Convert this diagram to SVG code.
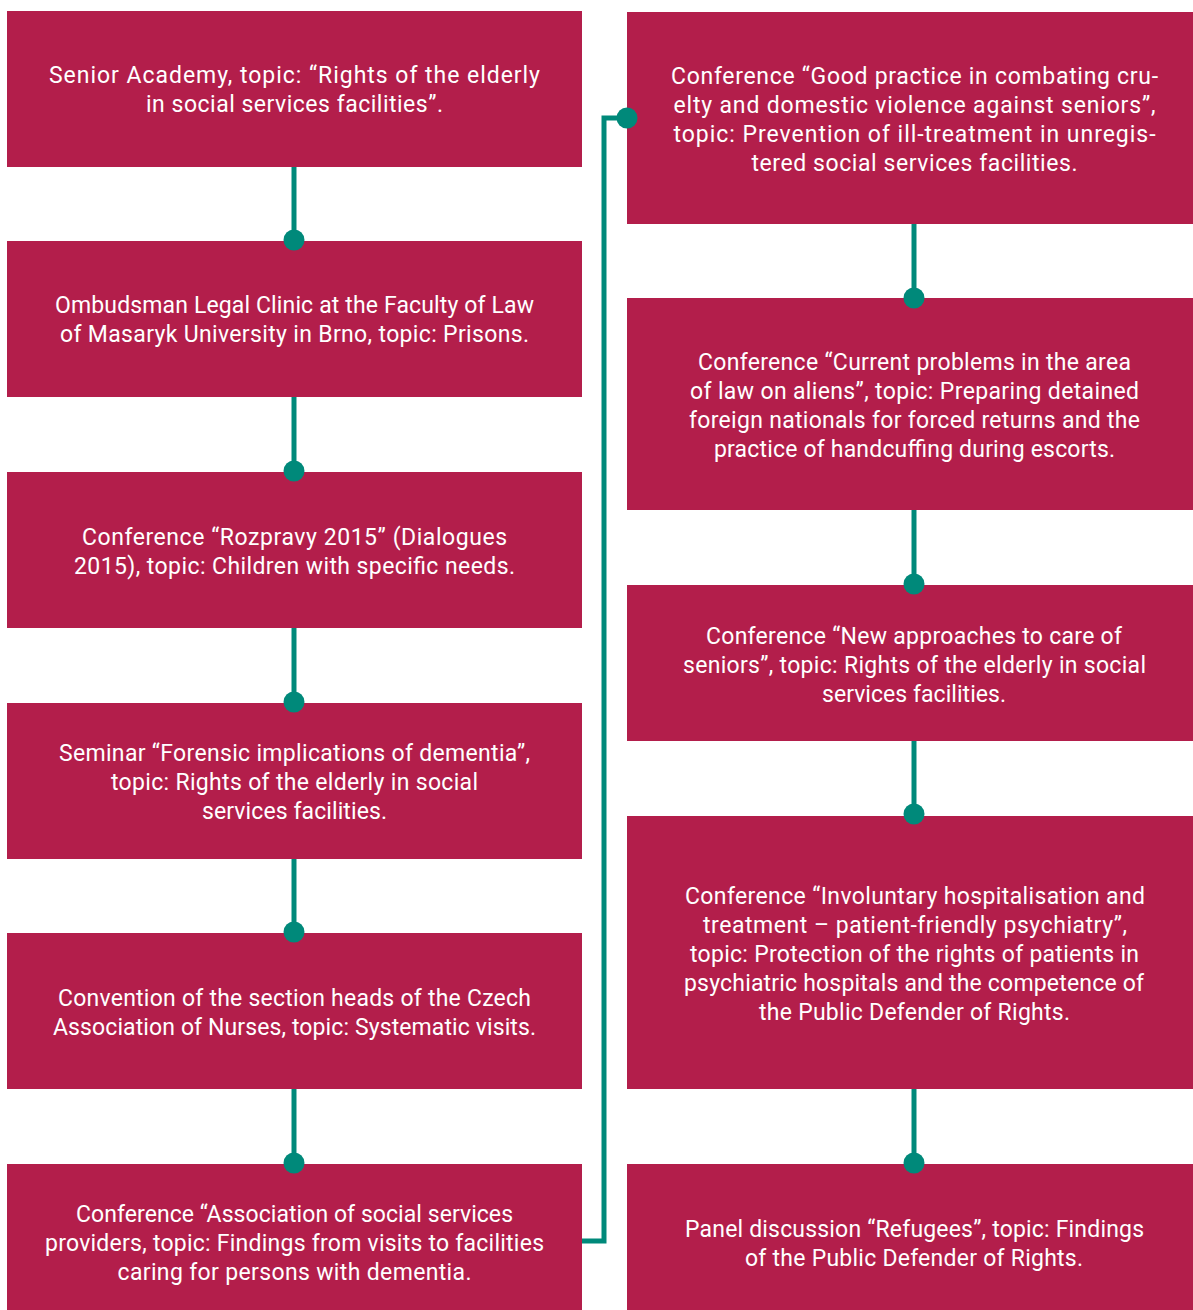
<svg xmlns="http://www.w3.org/2000/svg" width="1193" height="1310" viewBox="0 0 1193 1310">
<style>
.box{fill:#B31E4B}
.t{font-family:Roboto,"Liberation Sans",sans-serif;font-size:23px;fill:#fff;text-anchor:middle}
.ln{stroke:#00897A;stroke-width:5;fill:none}
.dot{fill:#00897A}
</style>
<rect width="1193" height="1310" fill="#fff"/>
<g id="connectors">
<line class="ln" x1="294" y1="167" x2="294" y2="240"/>
<line class="ln" x1="294" y1="397" x2="294" y2="471"/>
<line class="ln" x1="294" y1="628" x2="294" y2="702"/>
<line class="ln" x1="294" y1="859" x2="294" y2="932"/>
<line class="ln" x1="294" y1="1089" x2="294" y2="1163"/>
<polyline class="ln" points="582,1241 604,1241 604,118 627,118"/>
<line class="ln" x1="914" y1="224" x2="914" y2="298"/>
<line class="ln" x1="914" y1="510" x2="914" y2="584"/>
<line class="ln" x1="914" y1="741" x2="914" y2="814"/>
<line class="ln" x1="914" y1="1089" x2="914" y2="1163"/>
</g>
<g id="n1"><rect class="box" x="7" y="11" width="575" height="156"/>
<text class="t" x="294.5" y="83" textLength="491" lengthAdjust="spacing">Senior Academy, topic: “Rights of the elderly</text>
<text class="t" x="294.5" y="112" textLength="297" lengthAdjust="spacing">in social services facilities”.</text></g>
<g id="n2"><rect class="box" x="7" y="241" width="575" height="156"/>
<text class="t" x="294.5" y="313" textLength="479" lengthAdjust="spacing">Ombudsman Legal Clinic at the Faculty of Law</text>
<text class="t" x="294.5" y="342" textLength="469" lengthAdjust="spacing">of Masaryk University in Brno, topic: Prisons.</text></g>
<g id="n3"><rect class="box" x="7" y="472" width="575" height="156"/>
<text class="t" x="294.5" y="545" textLength="425" lengthAdjust="spacing">Conference “Rozpravy 2015” (Dialogues</text>
<text class="t" x="294.5" y="574" textLength="441" lengthAdjust="spacing">2015), topic: Children with specific needs.</text></g>
<g id="n4"><rect class="box" x="7" y="703" width="575" height="156"/>
<text class="t" x="294.5" y="761" textLength="471" lengthAdjust="spacing">Seminar “Forensic implications of dementia”,</text>
<text class="t" x="294.5" y="790" textLength="367" lengthAdjust="spacing">topic: Rights of the elderly in social</text>
<text class="t" x="294.5" y="819" textLength="185" lengthAdjust="spacing">services facilities.</text></g>
<g id="n5"><rect class="box" x="7" y="933" width="575" height="156"/>
<text class="t" x="294.5" y="1006" textLength="473" lengthAdjust="spacing">Convention of the section heads of the Czech</text>
<text class="t" x="294.5" y="1035" textLength="483" lengthAdjust="spacing">Association of Nurses, topic: Systematic visits.</text></g>
<g id="n6"><rect class="box" x="7" y="1164" width="575" height="146"/>
<text class="t" x="294.5" y="1222" textLength="437" lengthAdjust="spacing">Conference “Association of social services</text>
<text class="t" x="294.5" y="1251" textLength="499" lengthAdjust="spacing">providers, topic: Findings from visits to facilities</text>
<text class="t" x="294.5" y="1280" textLength="354" lengthAdjust="spacing">caring for persons with dementia.</text></g>
<g id="n7"><rect class="box" x="627" y="12" width="566" height="212"/>
<text class="t" x="914.5" y="84" textLength="487" lengthAdjust="spacing">Conference “Good practice in combating cru-</text>
<text class="t" x="914.5" y="113" textLength="482" lengthAdjust="spacing">elty and domestic violence against seniors”,</text>
<text class="t" x="914.5" y="142" textLength="482" lengthAdjust="spacing">topic: Prevention of ill-treatment in unregis-</text>
<text class="t" x="914.5" y="171" textLength="326" lengthAdjust="spacing">tered social services facilities.</text></g>
<g id="n8"><rect class="box" x="627" y="298" width="566" height="212"/>
<text class="t" x="914.5" y="370" textLength="433" lengthAdjust="spacing">Conference “Current problems in the area</text>
<text class="t" x="914.5" y="399" textLength="449" lengthAdjust="spacing">of law on aliens”, topic: Preparing detained</text>
<text class="t" x="914.5" y="428" textLength="451" lengthAdjust="spacing">foreign nationals for forced returns and the</text>
<text class="t" x="914.5" y="457" textLength="401" lengthAdjust="spacing">practice of handcuffing during escorts.</text></g>
<g id="n9"><rect class="box" x="627" y="585" width="566" height="156"/>
<text class="t" x="914" y="644" textLength="416" lengthAdjust="spacing">Conference “New approaches to care of</text>
<text class="t" x="914.5" y="673" textLength="463" lengthAdjust="spacing">seniors”, topic: Rights of the elderly in social</text>
<text class="t" x="914" y="702" textLength="184" lengthAdjust="spacing">services facilities.</text></g>
<g id="n10"><rect class="box" x="627" y="816" width="566" height="273"/>
<text class="t" x="915" y="904" textLength="460" lengthAdjust="spacing">Conference “Involuntary hospitalisation and</text>
<text class="t" x="915" y="933" textLength="424" lengthAdjust="spacing">treatment – patient-friendly psychiatry”,</text>
<text class="t" x="914.5" y="962" textLength="449" lengthAdjust="spacing">topic: Protection of the rights of patients in</text>
<text class="t" x="914" y="991" textLength="460" lengthAdjust="spacing">psychiatric hospitals and the competence of</text>
<text class="t" x="914.5" y="1020" textLength="311" lengthAdjust="spacing">the Public Defender of Rights.</text></g>
<g id="n11"><rect class="box" x="627" y="1164" width="566" height="146"/>
<text class="t" x="914.5" y="1237" textLength="459" lengthAdjust="spacing">Panel discussion “Refugees”, topic: Findings</text>
<text class="t" x="914" y="1266" textLength="338" lengthAdjust="spacing">of the Public Defender of Rights.</text></g>
<g id="dots">
<circle class="dot" cx="294" cy="240" r="10.5"/>
<circle class="dot" cx="294" cy="471" r="10.5"/>
<circle class="dot" cx="294" cy="702" r="10.5"/>
<circle class="dot" cx="294" cy="932" r="10.5"/>
<circle class="dot" cx="294" cy="1163" r="10.5"/>
<circle class="dot" cx="627" cy="118" r="10.5"/>
<circle class="dot" cx="914" cy="298" r="10.5"/>
<circle class="dot" cx="914" cy="584" r="10.5"/>
<circle class="dot" cx="914" cy="814" r="10.5"/>
<circle class="dot" cx="914" cy="1163" r="10.5"/>
</g>
</svg>
